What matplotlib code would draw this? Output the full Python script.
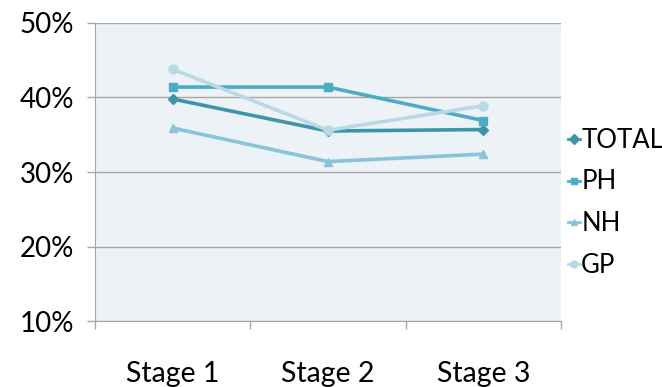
import matplotlib
matplotlib.use("Agg")
import matplotlib.pyplot as plt
from matplotlib.ticker import FixedLocator, PercentFormatter

stages = ["Stage 1", "Stage 2", "Stage 3"]
total = [39.8, 35.5, 35.7]
ph = [41.4, 41.4, 36.9]
nh = [35.9, 31.4, 32.4]
gp = [43.8, 35.6, 38.9]

series = [
    ("TOTAL", total, "#3E95AA", "D", 5),
    ("PH", ph, "#4BACC6", "s", 6),
    ("NH", nh, "#8AC4D8", "^", 6),
    ("GP", gp, "#B9D9E4", "o", 6.5),
]

plt.rcParams["font.family"] = ["Lato", "DejaVu Sans"]

fig = plt.figure(figsize=(6.62, 3.87), dpi=100)
ax = fig.add_axes([0.1435, 0.1705, 0.8474 - 0.1435, 0.9406 - 0.1705])
ax.set_facecolor("#EDF2F7")

x = list(range(len(stages)))
handles = []
for name, vals, color, marker, ms in series:
    h, = ax.plot(x, vals, color=color, lw=2.6, marker=marker, ms=ms,
                 markeredgecolor=color, label=name, zorder=3)
    handles.append(h)

ax.set_xlim(-0.5, 2.5)
ax.set_ylim(10, 50)
ax.yaxis.set_major_locator(FixedLocator([10, 20, 30, 40, 50]))
ax.yaxis.set_major_formatter(PercentFormatter(decimals=0))
ax.grid(axis="y", color="#A6A6A6", lw=1.0, zorder=1)
ax.set_axisbelow(True)

ax.set_xticks(x)
ax.set_xticklabels(stages)
ax.set_xticks([-0.5, 0.5, 1.5, 2.5], minor=True)
ax.tick_params(axis="x", which="major", length=0, pad=29, labelsize=20.5)
ax.tick_params(axis="x", which="minor", length=6, color="#A6A6A6", width=1.0)
ax.tick_params(axis="y", length=6, color="#A6A6A6", width=1.0, labelsize=20, pad=9)

for side in ("top", "right"):
    ax.spines[side].set_visible(False)
ax.spines["left"].set_color("#A6A6A6")
ax.spines["bottom"].set_color("#A6A6A6")

leg = fig.legend(handles=handles, loc="upper left", bbox_to_anchor=(0.843, 0.697),
                 frameon=False, fontsize=18.5, handlelength=0.45, handletextpad=0.05,
                 labelspacing=0.66, borderaxespad=0)
for lh in leg.legend_handles:
    lh.set_markersize(5)
    lh.set_linewidth(2)

fig.savefig("out.png", dpi=100)
